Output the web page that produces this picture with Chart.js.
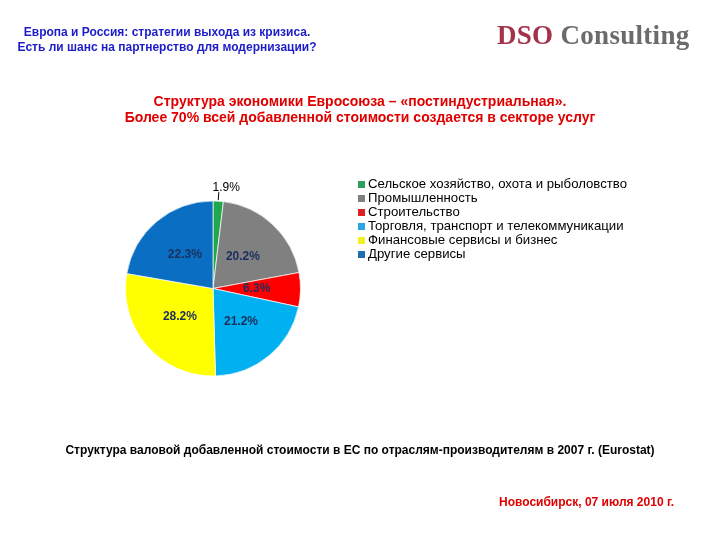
<!DOCTYPE html>
<html lang="ru">
<head>
<meta charset="utf-8">
<script src="https://cdn.jsdelivr.net/npm/chart.js@4"></script>
<style>
  html, body { margin: 0; padding: 0; background: #fff; }
  #page { position: relative; width: 720px; height: 540px; overflow: hidden; font-family: "Liberation Sans", Arial, sans-serif; }
  #page canvas { position: absolute; left: 0; top: 0; }
  .abs { position: absolute; white-space: nowrap; }
  #head { left: 0; width: 334px; top: 25px; text-align: center; color: #1c1cc8; font-weight: bold; font-size: 12px; line-height: 15px; }
  #logo { left: 497px; top: 20px; font-family: "Liberation Serif", serif; font-size: 27px; font-weight: bold; letter-spacing: 0.3px; }
  #logo .dso { color: #a3324a; }
  #logo .cons { color: #6b6b6b; }
  #title { left: 0; width: 720px; top: 93px; text-align: center; color: #e00000; font-weight: bold; font-size: 14px; line-height: 16px; }
  #legend { left: 358px; top: 177px; font-size: 13.2px; line-height: 14px; color: #000; }
  #legend div { display: flex; align-items: center; }
  #legend span.box { display: inline-block; width: 7px; height: 7px; margin-right: 3px; }
  #caption { left: 0; width: 720px; top: 443px; text-align: center; font-weight: bold; font-size: 12px; color: #000; }
  #place { left: 499px; top: 495px; font-weight: bold; font-size: 12px; color: #e00000; }
</style>
</head>
<body>
<div id="page">
  <canvas id="pie" width="720" height="540"></canvas>
  <div id="head" class="abs">Европа и Россия: стратегии выхода из кризиса.<br>Есть ли шанс на партнерство для модернизации?</div>
  <div id="logo" class="abs"><span class="dso">DSO</span> <span class="cons">Consulting</span></div>
  <div id="title" class="abs">Структура экономики Евросоюза – «постиндустриальная».<br>Более 70% всей добавленной стоимости создается в секторе услуг</div>
  <div id="legend" class="abs"></div>
  <div id="caption" class="abs">Структура валовой добавленной стоимости в ЕС по отраслям-производителям в 2007 г. (Eurostat)</div>
  <div id="place" class="abs">Новосибирск, 07 июля 2010 г.</div>
</div>
<script>
const sectors = [
  "Сельское хозяйство, охота и рыболовство",
  "Промышленность",
  "Строительство",
  "Торговля, транспорт и телекоммуникации",
  "Финансовые сервисы и бизнес",
  "Другие сервисы"
];
const shares = [1.9, 20.2, 6.3, 21.2, 28.2, 22.3];
const sliceColors = ["#1fa84f", "#808080", "#ff0000", "#00b0f0", "#ffff00", "#0a6fc2"];
const legendColors = ["#2e9e5e", "#808080", "#e02020", "#2aa6e0", "#f2f020", "#1f6fb0"];

// HTML legend
document.getElementById("legend").innerHTML = sectors.map((name, i) =>
  `<div><span class="box" style="background:${legendColors[i]}"></span>${name}</div>`
).join("");

// percentage labels on slices, small slice gets an outside label with a leader line
const sliceLabels = {
  id: "sliceLabels",
  afterDatasetsDraw(chart) {
    const ctx = chart.ctx;
    const meta = chart.getDatasetMeta(0);
    ctx.save();
    ctx.textAlign = "center";
    ctx.textBaseline = "middle";
    meta.data.forEach((arc, i) => {
      const p = arc.getProps(["x", "y", "startAngle", "endAngle", "outerRadius"], true);
      const mid = (p.startAngle + p.endAngle) / 2;
      const text = shares[i].toFixed(1) + "%";
      if (shares[i] < 3) {
        const x1 = p.x + Math.cos(mid) * (p.outerRadius + 1);
        const y1 = p.y + Math.sin(mid) * (p.outerRadius + 1);
        ctx.strokeStyle = "#000";
        ctx.lineWidth = 1;
        ctx.beginPath();
        ctx.moveTo(x1, y1);
        ctx.lineTo(x1 + 0.5, y1 - 8);
        ctx.stroke();
        ctx.font = "12px 'Liberation Sans', Arial, sans-serif";
        ctx.fillStyle = "#000";
        ctx.fillText(text, x1 + 8, y1 - 12);
      } else {
        const r = p.outerRadius * 0.5;
        ctx.font = "bold 12px 'Liberation Sans', Arial, sans-serif";
        ctx.fillStyle = "#1b2f5e";
        ctx.fillText(text, p.x + Math.cos(mid) * r, p.y + Math.sin(mid) * r);
      }
    });
    ctx.restore();
  }
};

new Chart(document.getElementById("pie").getContext("2d"), {
  type: "pie",
  data: {
    labels: sectors,
    datasets: [{
      data: shares,
      backgroundColor: sliceColors,
      borderColor: "rgba(255,255,255,0.7)",
      borderWidth: 1
    }]
  },
  options: {
    responsive: false,
    animation: false,
    layout: { padding: { left: 125, right: 419, top: 200, bottom: 163 } },
    plugins: {
      legend: { display: false },
      tooltip: { enabled: false }
    }
  },
  plugins: [sliceLabels]
});
</script>
</body>
</html>
